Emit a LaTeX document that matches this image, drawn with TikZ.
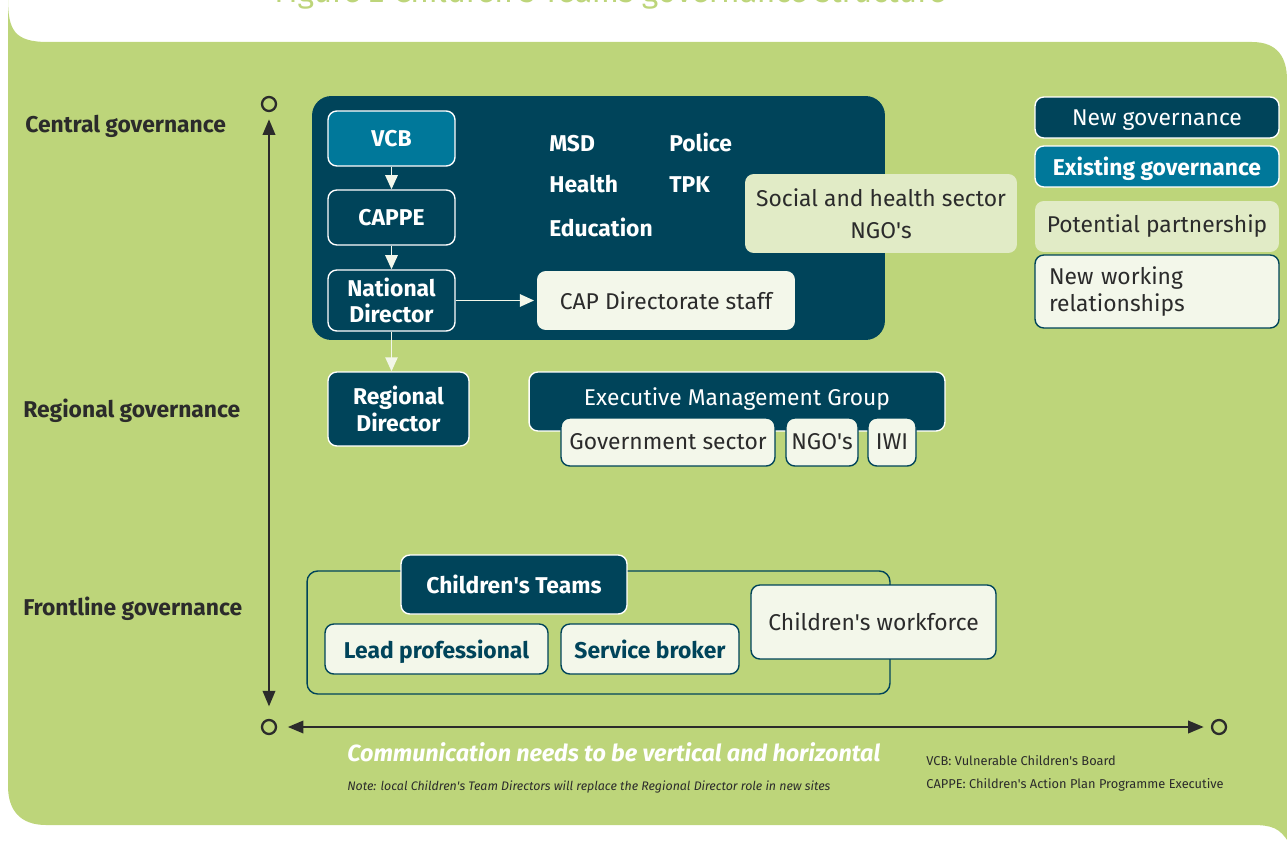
\documentclass[tikz,border=0pt]{standalone}
\usepackage{fontspec}
\setmainfont{Fira Sans}
\usetikzlibrary{arrows.meta, positioning}

\definecolor{leaf}{HTML}{BDD57A}
\definecolor{navy}{HTML}{00445A}
\definecolor{sea}{HTML}{00789A}
\definecolor{pale}{HTML}{E1EBC6}
\definecolor{cream}{HTML}{F3F7EA}
\definecolor{ink}{HTML}{2B2B2B}

\newcommand{\ap}{\textquotesingle}

\begin{document}
\begin{tikzpicture}[x=0.02cm, y=-0.02cm]
		\tikzstyle{every node}=[inner sep=0pt]
		\tikzstyle{plain}=[font=\fontsize{13}{15.5}\selectfont]
		\tikzstyle{heavy}=[font=\fontsize{13}{15}\selectfont\bfseries]
		\tikzstyle{box}=[rectangle, rounded corners=5pt, align=center]
		\tikzstyle{newgov}=[box, fill=navy, draw=white, line width=0.8pt, text=white]
		\tikzstyle{existgov}=[box, fill=sea, draw=white, line width=0.8pt, text=white]
		\tikzstyle{partner}=[box, fill=pale, text=ink]
		\tikzstyle{relation}=[box, fill=cream, draw=navy, line width=0.8pt, text=ink]
		\tikzstyle{ring}=[circle, draw=ink, line width=1.3pt, minimum size=0.28cm]
		\tikzstyle{flow}=[draw=cream, line width=1pt, -{Triangle[length=8pt, width=7pt]}]
		\tikzstyle{axis}=[draw=ink, line width=1.6pt, {Triangle[length=9pt, width=7pt]}-{Triangle[length=9pt, width=7pt]}]

		\useasboundingbox (0,0) rectangle (1287,841);

		% green page
		\fill[leaf] (8,-2) .. controls (8,30) and (14,42) .. (48,42) -- (1252,42)
			.. controls (1278,42) and (1287,58) .. (1287,80) -- (1289,843)
			.. controls (1280,828) and (1272,825) .. (1252,825) -- (46,825)
			.. controls (20,825) and (8,810) .. (8,786) -- cycle;

		\node[anchor=base, text=leaf, font=\fontsize{18}{20}\selectfont] (title) at (610,3)
			{Figure 2 Children\ap s Teams governance structure};

		% levels
		\node[heavy, text=ink, anchor=base west] (central lbl) at (25,133) {Central governance};
		\node[heavy, text=ink, anchor=base west] (regional lbl) at (23,417) {Regional governance};
		\node[heavy, text=ink, anchor=base west] (frontline lbl) at (23,615) {Frontline governance};

		\node[ring] (top) at (269,104) {};
		\node[ring] (origin) at (269,727) {};
		\node[ring] (end) at (1219,727) {};

		\draw[axis, shorten <=4pt, shorten >=7pt] (top) -- (origin);
		\draw[axis, shorten <=6pt, shorten >=4pt] (origin) -- (end);

		% central
		\node[newgov, draw=none, rounded corners=11pt, minimum width=11.46cm, minimum height=4.88cm] (central) at (598.5,218) {};

		\node[existgov, heavy, minimum width=2.54cm, minimum height=1.1cm] (vcb) at (391.5,138.5) {VCB};
		\node[newgov, heavy, minimum width=2.54cm, minimum height=1.1cm] (cappe) at (391.5,217.5) {CAPPE};
		\node[newgov, heavy, minimum width=2.54cm, minimum height=1.22cm] (national) at (391.5,300.5) {National\\Director};
		\node[partner, plain, fill=cream, minimum width=5.16cm, minimum height=1.18cm] (staff) at (666,300.5) {CAP Directorate staff};

		\node[heavy, text=white, anchor=base west] (msd) at (549,152) {MSD};
		\node[heavy, text=white, anchor=base west] (police) at (669,152) {Police};
		\node[heavy, text=white, anchor=base west] (health) at (549,193) {Health};
		\node[heavy, text=white, anchor=base west] (tpk) at (669,193) {TPK};
		\node[heavy, text=white, anchor=base west] (education) at (549,236) {Education};

		\node[partner, plain, font=\fontsize{13}{18}\selectfont, minimum width=5.44cm, minimum height=1.58cm] (ngo) at (881,213.5) {Social and health sector\\NGO\ap s};

		\draw[flow] (vcb) -- (cappe);
		\draw[flow] (cappe) -- (national);
		\draw[flow, shorten >=1.5pt] (national) -- (staff);

		% key
		\node[newgov, plain, text depth=0pt, minimum width=4.88cm, minimum height=0.82cm] (key new) at (1157,117.5) {New governance};
		\node[existgov, heavy, text depth=0pt, minimum width=4.88cm, minimum height=0.82cm] (key existing) at (1157,166.5) {Existing governance};
		\node[partner, plain, minimum width=4.88cm, minimum height=1.02cm] (key partner) at (1157,226.5) {Potential partnership};
		\node[relation, plain, align=left, text width=4.32cm, inner xsep=0.28cm, minimum height=1.46cm] (key relation) at (1157,291.5) {New working\\relationships};

		% regional
		\node[newgov, heavy, minimum width=2.82cm, minimum height=1.48cm] (regional) at (398.5,409) {Regional\\Director};
		\draw[flow] (national) -- (national |- regional.north);

		\node[newgov, plain, minimum width=8.32cm, minimum height=1.18cm, text depth=6pt] (emg) at (737,401.5) {Executive Management Group};
		\node[relation, plain, minimum width=4.28cm, minimum height=0.96cm] (govt) at (668,442) {Government sector};
		\node[relation, plain, minimum width=1.44cm, minimum height=0.96cm] (emg ngo) at (822,442) {NGO\ap s};
		\node[relation, plain, minimum width=0.96cm, minimum height=0.96cm] (iwi) at (892,442) {IWI};

		% frontline
		\node[box, draw=navy, line width=0.8pt, rounded corners=6pt, minimum width=11.66cm, minimum height=2.46cm] (frontline) at (598.5,632.5) {};
		\node[newgov, heavy, minimum width=4.52cm, minimum height=1.18cm] (teams) at (514,584.5) {Children\ap s Teams};
		\node[relation, heavy, text=navy, text depth=0pt, minimum width=4.46cm, minimum height=1cm] (lead) at (436.5,649) {Lead professional};
		\node[relation, heavy, text=navy, minimum width=3.56cm, minimum height=1cm] (broker) at (650,649) {Service broker};
		\node[relation, plain, minimum width=4.9cm, minimum height=1.48cm] (workforce) at (873.5,622) {Children\ap s workforce};

		% notes
		\node[anchor=base west, text=white, font=\fontsize{13.3}{15}\selectfont\bfseries\itshape] (message) at (347,761)
			{Communication needs to be vertical and horizontal};
		\node[anchor=base west, text=ink, font=\fontsize{7.05}{8}\selectfont\itshape] (note) at (347,790)
			{Note: local Children\ap s Team Directors will replace the Regional Director role in new sites};
		\node[anchor=base west, text=ink, font=\fontsize{7.3}{8}\selectfont] (vcb key) at (926,765) {VCB: Vulnerable Children\ap s Board};
		\node[anchor=base west, text=ink, font=\fontsize{7.3}{8}\selectfont] (cappe key) at (926,788) {CAPPE: Children\ap s Action Plan Programme Executive};

	\end{tikzpicture}
\end{document}
